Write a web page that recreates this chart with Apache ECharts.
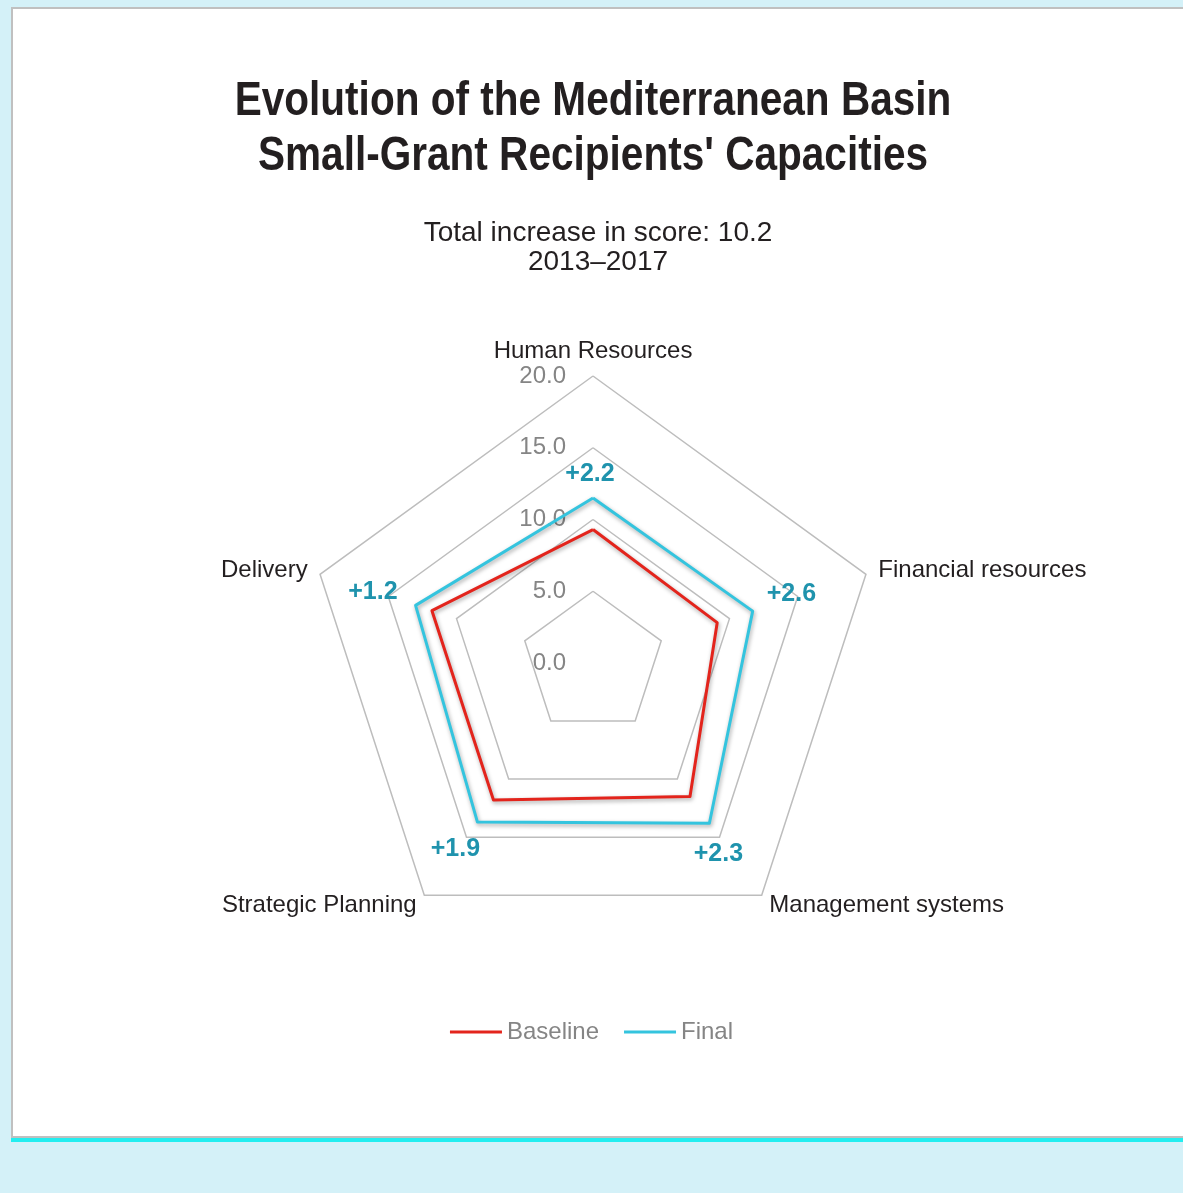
<!DOCTYPE html>
<html>
<head>
<meta charset="utf-8">
<script src="https://cdn.jsdelivr.net/npm/echarts@6/dist/echarts.min.js"></script>
<style>
  html, body { margin: 0; padding: 0; background: #d4f1f8; }
  .panel {
    position: absolute; left: 11px; top: 7px; right: 0; height: 1127px;
    background: #fff;
    border-left: 2px solid #c0c0c0; border-top: 2px solid #c0c0c0; border-bottom: 2px solid #c0c0c0;
    box-shadow: 0 4px 0 0 #22eef0;
  }
  #chart { position: absolute; left: 0; top: 0; width: 1183px; height: 1193px; }
</style>
</head>
<body>
<div class="panel"></div>
<div id="chart"></div>
<script>
// radar axes, in drawing order (ECharts goes counter-clockwise from the top)
const dimensions = ['Human Resources', 'Delivery', 'Strategic Planning', 'Management systems', 'Financial resources']
const baselineScores = [9.3, 11.8, 11.8, 11.5, 9.1]
const finalScores = [11.5, 13.0, 13.7, 13.8, 11.7]
const axisMax = 20

const COLORS = { baseline: '#e3241c', final: '#34c4de', gain: '#1f93ad', text: '#231f20', muted: '#858585', grid: '#bdbdbd' }
const FONT = 'Liberation Sans, Arial, sans-serif'

// where each gain label sits around its vertex
const gainLabelPlacement = [
  { position: 'top', distance: 10, offset: [-3, 0] },
  { position: 'left', distance: 17, offset: [0, -13] },
  { position: 'bottom', distance: 14, offset: [-22, 0] },
  { position: 'bottom', distance: 17, offset: [9, 0] },
  { position: 'right', distance: 13, offset: [0, -17] }
]

const gains = finalScores.map((v, i) => (v - baselineScores[i]).toFixed(1))

const lineShadow = { shadowBlur: 4, shadowColor: 'rgba(0,0,0,0.35)', shadowOffsetX: 1, shadowOffsetY: 2 }

const gainSeries = gainLabelPlacement.map((pl, k) => ({
  type: 'radar',
  name: 'gain' + k,
  silent: true,
  symbol: 'circle',
  symbolSize: 2,
  itemStyle: { color: 'rgba(0,0,0,0)' },
  lineStyle: { opacity: 0 },
  z: 5,
  data: [{
    value: finalScores,
    label: {
      show: true,
      position: pl.position,
      distance: pl.distance,
      offset: pl.offset,
      color: COLORS.gain,
      fontFamily: FONT,
      fontWeight: 'bold',
      fontSize: 25,
      formatter: (p) => {
        const v = Array.isArray(p.value) ? NaN : p.value
        return v === finalScores[k] ? '+' + gains[k] : ''
      }
    }
  }]
}))

const chart = echarts.init(document.getElementById('chart'), null, { renderer: 'canvas' })

chart.setOption({
  animation: false,
  backgroundColor: 'transparent',
  // heading: narrow bold face, made by squeezing Liberation Sans Bold
  graphic: [{
    type: 'text',
    x: 593,
    y: 74,
    scaleX: 0.845,
    style: {
      text: 'Evolution of the Mediterranean Basin\nSmall-Grant Recipients\' Capacities',
      font: 'bold 48px Liberation Sans, Arial, sans-serif',
      lineHeight: 55,
      fill: COLORS.text,
      align: 'center',
      verticalAlign: 'top'
    }
  }],
  title: {
    text: 'Total increase in score: 10.2\n2013\u20132017',
    left: 593,
    textAlign: 'center',
    top: 214,
    textStyle: {
      fontFamily: FONT,
      fontWeight: 'normal',
      fontSize: 28,
      lineHeight: 29,
      color: COLORS.text
    }
  },
  legend: {
    data: ['Baseline', 'Final'],
    left: 'center',
    top: 1015,
    icon: 'rect',
    itemWidth: 52,
    itemHeight: 3,
    itemGap: 25,
    textStyle: { fontFamily: FONT, fontSize: 24, color: COLORS.muted }
  },
  radar: {
    center: [593, 663],
    radius: 287,
    startAngle: 90,
    splitNumber: 4,
    shape: 'polygon',
    indicator: dimensions.map((name, i) => {
      const ind = { name, min: 0, max: axisMax }
      if (i === 0) ind.axisLabel = { show: true }
      return ind
    }),
    axisName: {
      color: COLORS.text,
      fontFamily: FONT,
      fontSize: 24
    },
    nameGap: 13,
    axisLine: { show: false },
    axisTick: { show: false },
    axisLabel: {
      show: false,
      margin: 27,
      color: COLORS.muted,
      fontFamily: FONT,
      fontSize: 24,
      formatter: (v) => Number(v).toFixed(1)
    },
    splitLine: { lineStyle: { color: COLORS.grid, width: 1.5 } },
    splitArea: { show: false }
  },
  series: [
    {
      type: 'radar',
      name: 'Baseline',
      symbol: 'none',
      z: 3,
      itemStyle: { color: COLORS.baseline },
      lineStyle: Object.assign({ color: COLORS.baseline, width: 3 }, lineShadow),
      data: [{ value: baselineScores, name: 'Baseline' }]
    },
    {
      type: 'radar',
      name: 'Final',
      symbol: 'none',
      z: 3,
      itemStyle: { color: COLORS.final },
      lineStyle: Object.assign({ color: COLORS.final, width: 3 }, lineShadow),
      data: [{ value: finalScores, name: 'Final' }]
    },
    ...gainSeries
  ]
})
</script>
</body>
</html>
